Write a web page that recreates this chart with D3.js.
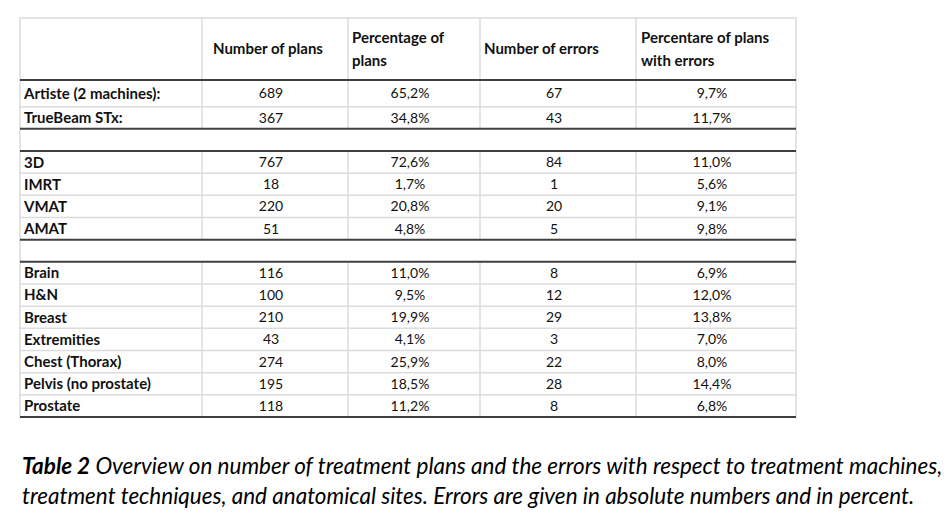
<!DOCTYPE html>
<html>
<head>
<meta charset="utf-8">
<script src="https://cdn.jsdelivr.net/npm/d3@7"></script>
<style>
  html, body { margin: 0; padding: 0; background: #fff; }
  svg { display: block; }
</style>
</head>
<body>
<svg id="chart" width="952" height="521"></svg>
<script>
// table data (null = empty separator row)
const rowLabels = ["Artiste (2 machines):", "TrueBeam STx:", null, "3D", "IMRT", "VMAT", "AMAT", null,
  "Brain", "H&N", "Breast", "Extremities", "Chest (Thorax)", "Pelvis (no prostate)", "Prostate"];
const numPlans = [689, 367, null, 767, 18, 220, 51, null, 116, 100, 210, 43, 274, 195, 118];
const pctPlans = [65.2, 34.8, null, 72.6, 1.7, 20.8, 4.8, null, 11.0, 9.5, 19.9, 4.1, 25.9, 18.5, 11.2];
const numErrors = [67, 43, null, 84, 1, 20, 5, null, 8, 12, 29, 3, 22, 28, 8];
const pctErrors = [9.7, 11.7, null, 11.0, 5.6, 9.1, 9.8, null, 6.9, 12.0, 13.8, 7.0, 8.0, 14.4, 6.8];
const headers = [["Number of plans"], ["Percentage of", "plans"], ["Number of errors"], ["Percentare of plans", "with errors"]];
const captionBold = "Table 2";
const captionLines = [
  " Overview on number of treatment plans and the errors with respect to treatment machines,",
  "treatment techniques, and anatomical sites. Errors are given in absolute numbers and in percent."
];

const svg = d3.select("#chart");
const fontFamily = "Lato, 'Open Sans', sans-serif";
const thin = "#dcdcdc", thick = "#3f3f3f", ink = "#111";

// layout
const colEdges = [20, 202, 348, 480, 636, 796];
const tableTop = 18, headBottom = 80;
const nRows = rowLabels.length;
// row boundaries: row i spans [yB(i), yB(i+1)]
const yRow = d3.scaleLinear().domain([1, nRows]).range([106.7, 417]);
const yB = i => (i === 0 ? headBottom : yRow(i));
const left = colEdges[0], right = colEdges[colEdges.length - 1];

const pct = v => v.toFixed(1).replace(".", ",") + "%";
const columns = [
  { values: numPlans, fmt: d => String(d) },
  { values: pctPlans, fmt: pct },
  { values: numErrors, fmt: d => String(d) },
  { values: pctErrors, fmt: pct }
];

const grid = svg.append("g");

// outer light border (top, left, right)
grid.append("path")
  .attr("d", `M${left},${yB(nRows)}V${tableTop}H${right}V${yB(nRows)}`)
  .attr("fill", "none").attr("stroke", thin).attr("stroke-width", 1.5);

// vertical inner lines for header and non-empty rows
const segs = [{ y0: tableTop, y1: headBottom }];
rowLabels.forEach((l, i) => { if (l !== null) segs.push({ y0: yB(i), y1: yB(i + 1) }); });
colEdges.slice(1, -1).forEach(x => {
  grid.selectAll(null).data(segs).join("line")
    .attr("x1", x).attr("x2", x)
    .attr("y1", d => d.y0).attr("y2", d => d.y1)
    .attr("stroke", thin).attr("stroke-width", 1.5);
});

// horizontal lines between rows
const hLines = d3.range(0, nRows + 1).map(i => {
  const above = i === 0 ? "head" : rowLabels[i - 1];
  const below = i === nRows ? null : rowLabels[i];
  const heavy = i === 0 || i === nRows || above === null || below === null;
  return { y: yB(i), heavy };
});
grid.selectAll("line.h").data(hLines.filter(d => !d.heavy)).join("line")
  .attr("class", "h")
  .attr("x1", left).attr("x2", right)
  .attr("y1", d => d.y).attr("y2", d => d.y)
  .attr("stroke", thin).attr("stroke-width", 1.5);
grid.selectAll("line.hh").data(hLines.filter(d => d.heavy)).join("line")
  .attr("class", "hh")
  .attr("x1", left).attr("x2", right)
  .attr("y1", d => d.y).attr("y2", d => d.y)
  .attr("stroke", thick).attr("stroke-width", 2);

// header text
const headX = [213, 352, 484, 641];
headers.forEach((lines, c) => {
  const t = svg.append("text")
    .attr("font-family", fontFamily).attr("font-weight", 700)
    .attr("font-size", 15).attr("fill", ink);
  const mid = (tableTop + headBottom) / 2;
  lines.forEach((s, k) => {
    t.append("tspan")
      .attr("x", headX[c])
      .attr("y", mid + (k - (lines.length - 1) / 2) * 23)
      .attr("dy", "0.35em")
      .text(s);
  });
});

// row labels
const rowMid = i => (yB(i) + yB(i + 1)) / 2;
svg.append("g").selectAll("text")
  .data(rowLabels.map((l, i) => ({ l, i })).filter(d => d.l !== null))
  .join("text")
  .attr("x", 24)
  .attr("y", d => rowMid(d.i)).attr("dy", "0.36em")
  .attr("font-family", fontFamily).attr("font-weight", 700)
  .attr("font-size", 15).attr("fill", ink)
  .text(d => d.l);

// cell values
columns.forEach((col, c) => {
  const cx = (colEdges[c + 1] + colEdges[c + 2]) / 2 - 4;
  svg.append("g").selectAll("text")
    .data(col.values.map((v, i) => ({ v, i })).filter(d => d.v !== null))
    .join("text")
    .attr("x", cx)
    .attr("y", d => rowMid(d.i)).attr("dy", "0.36em")
    .attr("text-anchor", "middle")
    .attr("font-family", fontFamily)
    .attr("font-size", 14).attr("fill", ink)
    .text(d => col.fmt(d.v));
});

// caption
const cap = svg.append("g").attr("font-family", fontFamily).attr("fill", "#000");
const line1 = cap.append("text").attr("x", 22).attr("y", 474).attr("font-size", 18);
line1.append("tspan").attr("font-weight", 700).attr("font-style", "italic").text(captionBold);
line1.append("tspan").attr("font-style", "italic").text(captionLines[0]);
const line2 = cap.append("text").attr("x", 22).attr("y", 504).attr("font-size", 18)
  .attr("font-style", "italic").text(captionLines[1]);
// fit caption to its width in the reference
const w1 = line1.node().getComputedTextLength();
const fs = 18 * 921 / w1;
line1.attr("font-size", fs);
line2.attr("font-size", fs);
</script>
</body>
</html>
